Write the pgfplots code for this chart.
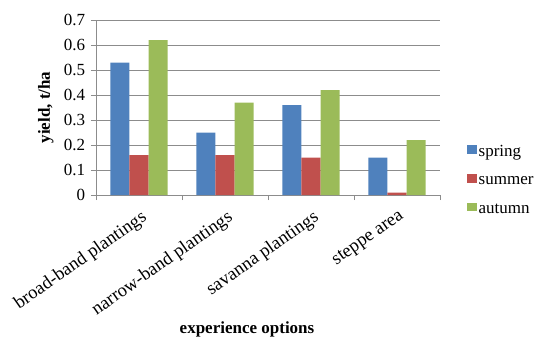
\documentclass[border=0pt]{standalone}
\usepackage{fontspec}
\setmainfont{Liberation Serif}
\usepackage{pgfplots}
\pgfplotsset{compat=1.18}
\definecolor{cspring}{HTML}{4F81BD}
\definecolor{csummer}{HTML}{C0504D}
\definecolor{cautumn}{HTML}{9BBB59}
\definecolor{axgray}{HTML}{8C8C8C}
\begin{document}
\fontsize{17bp}{20bp}\selectfont
\begin{tikzpicture}
\path[use as bounding box] (-96bp,-144bp) rectangle (439bp,195bp);
\begin{axis}[
  scale only axis, width=344bp, height=175bp,
  ybar=0pt, bar width=0.221,
  xmin=-0.5, xmax=3.5, ymin=0, ymax=0.7,
  ytick={0,0.1,0.2,0.3,0.4,0.5,0.6,0.7},
  xtick={-0.5,0.5,1.5,2.5,3.5},
  xticklabels={,,,,,},
  extra x ticks={0,1,2,3},
  extra x tick labels={broad-band plantings,narrow-band plantings,savanna plantings,steppe area},
  extra x tick style={major tick length=0pt, xticklabel style={font=\fontsize{18.5bp}{22bp}\selectfont, rotate=35, anchor=north east, inner sep=1bp, xshift=-6bp, yshift=-11bp}},
  tick align=outside,
  major tick length=5bp,
  tick style={draw=axgray, line width=0.8bp},
  axis x line*=bottom, axis y line*=left,
  axis line style={draw=axgray, line width=0.8bp},
  ymajorgrids, major grid style={draw=axgray, line width=0.8bp},
  /pgf/number format/assume math mode=true,
  ylabel={\textbf{yield, t/ha}},
  ylabel style={at={(axis description cs:0,0.5)}, yshift=46bp, anchor=base},
  xlabel={\textbf{experience options}},
  xlabel style={at={(axis description cs:0.439,0)}, anchor=base, yshift=-138bp},
  legend style={draw=none, fill=none, at={(axis description cs:1,0.08)}, anchor=west, xshift=27bp, row sep=13bp, inner sep=0pt,
    /tikz/every even column/.append style={column sep=1bp}},
  legend cell align=left,
  legend image code/.code={\fill[#1,draw=none] (0bp,-1bp) rectangle (9.5bp,7.5bp);},
]
\addplot[fill=cspring, draw=none] coordinates {(0,0.53) (1,0.25) (2,0.36) (3,0.15)};
\addplot[fill=csummer, draw=none] coordinates {(0,0.16) (1,0.16) (2,0.15) (3,0.01)};
\addplot[fill=cautumn, draw=none] coordinates {(0,0.62) (1,0.37) (2,0.42) (3,0.22)};
\legend{spring,summer,autumn}
\end{axis}
\end{tikzpicture}
\end{document}
